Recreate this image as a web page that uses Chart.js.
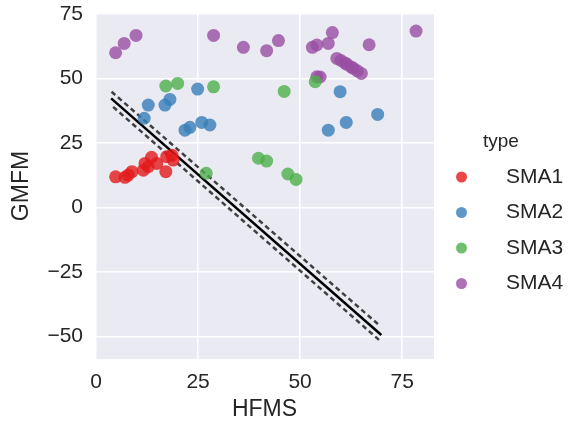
<!DOCTYPE html>
<html>
<head>
<meta charset="utf-8">
<script src="https://cdn.jsdelivr.net/npm/chart.js@4"></script>
<style>
  html, body { margin: 0; padding: 0; background: #ffffff; }
  #wrap { width: 576px; height: 428px; }
</style>
</head>
<body>
<div id="wrap"><canvas id="sma-chart" width="576" height="428"></canvas></div>
<script>
var sma1X = [4.8, 7.1, 7.9, 8.8, 11.6, 12, 12.8, 13.6, 14.9, 17.1, 17.3, 18.6, 18.9];
var sma1Y = [11.9, 11.7, 12.6, 13.9, 14.5, 17.1, 15.8, 19.5, 17.1, 13.9, 19.7, 20.3, 18.4];

var sma2X = [11.8, 12.8, 16.9, 18.1, 21.8, 23, 24.9, 25.9, 27.9, 56.9, 59.8, 61.3, 69];
var sma2Y = [34.6, 39.7, 39.7, 41.9, 30, 31.1, 45.9, 33, 32, 30, 44.9, 33, 36.1];

var sma3X = [17.1, 20, 27, 28.8, 39.8, 41.8, 46.1, 47, 49, 53.7];
var sma3Y = [47.1, 48.1, 13.3, 46.8, 19.1, 18, 45, 13, 10.9, 48.8];

var sma4X = [4.8, 6.9, 9.8, 28.8, 36.1, 41.8, 44.7, 53, 54.1, 54.1, 54.9, 56.9, 57.9,
             59, 60, 61, 61.5, 62.5, 63, 64, 65, 66.9, 78.4];
var sma4Y = [60, 63.6, 66.7, 66.7, 62.1, 60.8, 64.7, 62.1, 63, 50.7, 50.6, 63.6, 67.8,
             57.8, 57, 56, 55.5, 54.5, 54, 53, 52, 63.1, 68.4];

var fitX = [3.7, 69.9];
var fitY = [42.3, -49.4];
var upperX = [3.8, 69.6];
var upperY = [44.9, -45.9];
var lowerX = [4.2, 69.4];
var lowerY = [39, -51.4];

var xTicks = [0, 25, 50, 75];
var yTicks = [-50, -25, 0, 25, 50, 75];

var typeNames = ["SMA1", "SMA2", "SMA3", "SMA4"];
var typeColors = ["rgba(228, 26, 28, 0.8)", "rgba(55, 126, 184, 0.8)",
                  "rgba(77, 175, 74, 0.8)", "rgba(152, 78, 163, 0.8)"];

var fontFamily = "'Liberation Sans', Arial, sans-serif";
var textColor = "#262626";

function toPoints(xs, ys) {
    return xs.map(function (x, i) { return { x: x, y: ys[i] }; });
}

var groups = [[sma1X, sma1Y], [sma2X, sma2Y], [sma3X, sma3Y], [sma4X, sma4Y]];

var datasets = groups.map(function (g, i) {
    return {
        label: typeNames[i],
        data: toPoints(g[0], g[1]),
        backgroundColor: typeColors[i],
        borderWidth: 0,
        pointRadius: 6.5,
        pointHoverRadius: 6.5,
    };
});

datasets.push({
    type: "line", label: "fit", data: toPoints(fitX, fitY),
    borderColor: "#000000", borderWidth: 2.5, pointRadius: 0, fill: false,
});
datasets.push({
    type: "line", label: "upper", data: toPoints(upperX, upperY),
    borderColor: "#404040", borderWidth: 2.5, borderDash: [5, 3.5], pointRadius: 0, fill: false,
});
datasets.push({
    type: "line", label: "lower", data: toPoints(lowerX, lowerY),
    borderColor: "#404040", borderWidth: 2.5, borderDash: [5, 3.5], pointRadius: 0, fill: false,
});

// lavender plot background like seaborn darkgrid
var plotBackground = {
    id: "plotBackground",
    beforeDraw: function (chart) {
        var a = chart.chartArea, ctx = chart.ctx;
        ctx.save();
        ctx.fillStyle = "#eaeaf2";
        ctx.fillRect(a.left, a.top, a.right - a.left, a.bottom - a.top);
        ctx.restore();
    },
};

// legend on the right, seaborn style with a "type" title
var sideLegend = {
    id: "sideLegend",
    afterDraw: function (chart) {
        var ctx = chart.ctx;
        ctx.save();
        ctx.textBaseline = "middle";
        ctx.textAlign = "left";
        ctx.fillStyle = textColor;
        ctx.font = "19px " + fontFamily;
        ctx.fillText("type", 483, 142);
        ctx.font = "21px " + fontFamily;
        typeNames.forEach(function (name, i) {
            var y = 177 + i * 35.5;
            ctx.beginPath();
            ctx.arc(461.5, y, 5.5, 0, Math.PI * 2);
            ctx.fillStyle = typeColors[i];
            ctx.fill();
            ctx.fillStyle = textColor;
            ctx.fillText(name, 506, y);
        });
        ctx.restore();
    },
};

new Chart(document.getElementById("sma-chart").getContext("2d"), {
    type: "scatter",
    data: { datasets: datasets },
    plugins: [plotBackground, sideLegend],
    options: {
        responsive: false,
        animation: false,
        layout: { padding: { top: 13, right: 142, left: 0, bottom: 0 } },
        plugins: { legend: { display: false }, tooltip: { enabled: false } },
        scales: {
            x: {
                min: -0.25,
                max: 82.8,
                afterBuildTicks: function (scale) {
                    scale.ticks = xTicks.map(function (v) { return { value: v }; });
                },
                afterFit: function (scale) {
                    scale.height = 69;
                    scale.paddingLeft = 0;
                    scale.paddingRight = 0;
                },
                grid: { color: "#ffffff", lineWidth: 1.5, drawTicks: false },
                border: { display: false },
                ticks: { color: textColor, padding: 11, font: { size: 21, family: fontFamily } },
                title: {
                    display: true, text: "HFMS", color: textColor,
                    font: { size: 23, family: fontFamily }, padding: { top: 0, bottom: 5 },
                },
            },
            y: {
                min: -58.7,
                max: 75.4,
                afterBuildTicks: function (scale) {
                    scale.ticks = yTicks.map(function (v) { return { value: v }; });
                },
                afterFit: function (scale) {
                    scale.width = 95;
                    scale.paddingTop = 0;
                    scale.paddingBottom = 0;
                },
                grid: { color: "#ffffff", lineWidth: 1.5, drawTicks: false },
                border: { display: false },
                ticks: {
                    color: textColor, padding: 12, font: { size: 21, family: fontFamily },
                    callback: function (v) { return v < 0 ? "\u2212" + Math.abs(v) : String(v); },
                },
                title: {
                    display: true, text: "GMFM", color: textColor,
                    font: { size: 23, family: fontFamily }, padding: { top: 8, bottom: 0 },
                },
            },
        },
    },
});
</script>
</body>
</html>
